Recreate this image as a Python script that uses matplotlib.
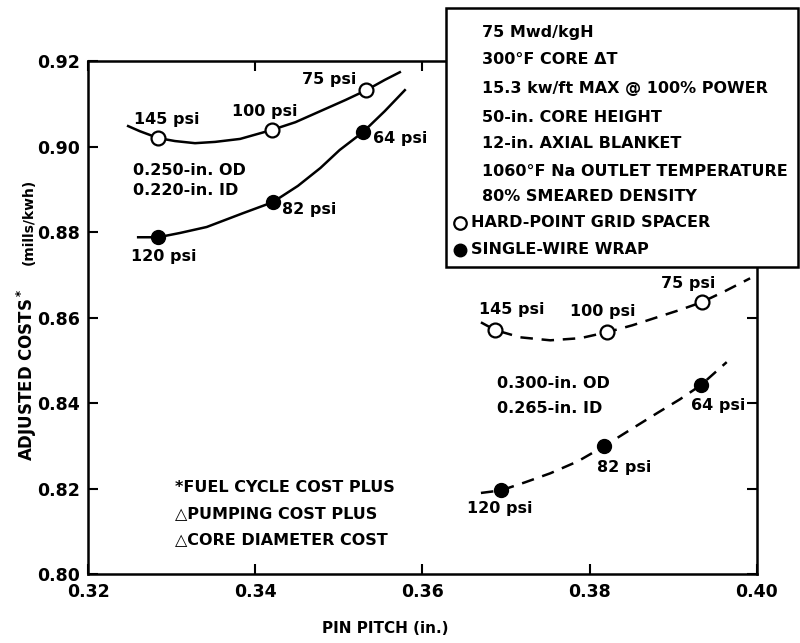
import matplotlib
matplotlib.use('Agg')
import matplotlib.pyplot as plt
from matplotlib.patches import Rectangle

plt.rcParams['font.family'] = ['DejaVu Sans']
plt.rcParams['font.weight'] = 'bold'

# 0.250-in. OD pins (solid curves)
small_open_x = [0.3284, 0.3420, 0.3533]
small_open_y = [0.9020, 0.9039, 0.9132]
small_open_psi = ['145 psi', '100 psi', '75 psi']
small_open_curve_x = [0.3248, 0.3262, 0.3284, 0.3304, 0.3328, 0.3352, 0.3382,
                      0.3420, 0.3448, 0.3478, 0.3508, 0.3533, 0.3555, 0.3573]
small_open_curve_y = [0.9048, 0.9036, 0.9020, 0.9013, 0.9008, 0.9011, 0.9018,
                      0.9039, 0.9057, 0.9083, 0.9109, 0.9132, 0.9156, 0.9174]

small_wire_x = [0.3284, 0.3421, 0.3529]
small_wire_y = [0.8788, 0.8870, 0.9034]
small_wire_psi = ['120 psi', '82 psi', '64 psi']
small_wire_curve_x = [0.3260, 0.3284, 0.3310, 0.3342, 0.3385, 0.3421,
                      0.3451, 0.3478, 0.3501, 0.3529, 0.3555, 0.3579]
small_wire_curve_y = [0.8788, 0.8788, 0.8798, 0.8812, 0.8844, 0.8870,
                      0.8908, 0.8950, 0.8992, 0.9034, 0.9083, 0.9132]

# 0.300-in. OD pins (dashed curves)
large_open_x = [0.3687, 0.3821, 0.3934]
large_open_y = [0.8571, 0.8566, 0.8636]
large_open_psi = ['145 psi', '100 psi', '75 psi']
large_open_curve_x = [0.3670, 0.3687, 0.3717, 0.3753, 0.3789, 0.3821,
                      0.3851, 0.3881, 0.3908, 0.3934, 0.3962, 0.3992]
large_open_curve_y = [0.8589, 0.8571, 0.8554, 0.8547, 0.8552, 0.8566,
                      0.8582, 0.8601, 0.8618, 0.8636, 0.8662, 0.8692]

large_wire_x = [0.3694, 0.3817, 0.3933]
large_wire_y = [0.8196, 0.8299, 0.8442]
large_wire_psi = ['120 psi', '82 psi', '64 psi']
large_wire_curve_x = [0.3670, 0.3694, 0.3723, 0.3753, 0.3786, 0.3817,
                      0.3848, 0.3881, 0.3908, 0.3933, 0.3964]
large_wire_curve_y = [0.8190, 0.8196, 0.8215, 0.8236, 0.8264, 0.8299,
                      0.8337, 0.8377, 0.8409, 0.8442, 0.8496]

x_ticks = [0.32, 0.34, 0.36, 0.38, 0.40]
y_ticks = [0.80, 0.82, 0.84, 0.86, 0.88, 0.90, 0.92]

legend_lines = ['75 Mwd/kgH', '300\u00b0F CORE \u0394T', '15.3 kw/ft MAX @ 100% POWER',
                '50-in. CORE HEIGHT', '12-in. AXIAL BLANKET',
                '1060\u00b0F Na OUTLET TEMPERATURE', '80% SMEARED DENSITY']
footnote = ['*FUEL CYCLE COST PLUS', '\u25b3PUMPING COST PLUS', '\u25b3CORE DIAMETER COST']

fig = plt.figure(figsize=(8, 6.43), dpi=100)
ax = fig.add_axes([0.11, 0.107, 0.836, 0.798])

lw = 1.8
ms = 10
ax.plot(small_open_curve_x, small_open_curve_y, color='black', lw=lw, solid_joinstyle='round')
ax.plot(small_wire_curve_x, small_wire_curve_y, color='black', lw=lw, solid_joinstyle='round')
ax.plot(large_open_curve_x, large_open_curve_y, color='black', lw=lw, dashes=(5, 3.5))
ax.plot(large_wire_curve_x, large_wire_curve_y, color='black', lw=lw, dashes=(5, 3.5))

for xs, ys in [(small_open_x, small_open_y), (large_open_x, large_open_y)]:
    ax.plot(xs, ys, 'o', ms=ms, mfc='white', mec='black', mew=1.6, zorder=3)
for xs, ys in [(small_wire_x, small_wire_y), (large_wire_x, large_wire_y)]:
    ax.plot(xs, ys, 'o', ms=ms, mfc='black', mec='black', zorder=3)

fs = 11.5
# pressure labels next to each point
label_pos = [
    (small_open_psi, [(0.3294, 0.9064), (0.3411, 0.9083), (0.3488, 0.9158)]),
    (small_wire_psi, [(0.3291, 0.8744), (0.3464, 0.8854), (0.3573, 0.9020)]),
    (large_open_psi, [(0.3707, 0.8620), (0.3816, 0.8615), (0.3918, 0.8681)]),
    (large_wire_psi, [(0.3693, 0.8154), (0.3841, 0.8250), (0.3954, 0.8395)]),
]
for texts, positions in label_pos:
    for t, (px, py) in zip(texts, positions):
        ax.text(px, py, t, fontsize=fs, ha='center', va='center')

ax.text(0.3254, 0.8943, '0.250-in. OD', fontsize=fs, va='center')
ax.text(0.3254, 0.8898, '0.220-in. ID', fontsize=fs, va='center')
ax.text(0.3689, 0.8447, '0.300-in. OD', fontsize=fs, va='center')
ax.text(0.3689, 0.8388, '0.265-in. ID', fontsize=fs, va='center')

for i, t in enumerate(footnote):
    ax.text(0.3304, 0.8203 - i * 0.00605, t, fontsize=fs, va='center')

ax.set_xlim(0.32, 0.40)
ax.set_ylim(0.80, 0.92)
ax.set_xticks(x_ticks)
ax.set_yticks(y_ticks)
ax.set_xticklabels(['%.2f' % v for v in x_ticks])
ax.set_yticklabels(['%.2f' % v for v in y_ticks])
ax.tick_params(direction='in', length=7, width=1.5, top=True, right=True,
               labelsize=12.5, pad=6)
for s in ax.spines.values():
    s.set_linewidth(1.8)

fig.text(0.481, 0.023, 'PIN PITCH (in.)', fontsize=11, ha='center', va='center')
fig.text(0.034, 0.418, 'ADJUSTED COSTS$^*$', fontsize=12, rotation=90,
         ha='center', va='center')
fig.text(0.036, 0.655, '(mills/kwh)', fontsize=10, rotation=90,
         ha='center', va='center')

# condition box in the upper right
fig.patches.append(Rectangle((0.557, 0.584), 0.44, 0.403, transform=fig.transFigure,
                             facecolor='white', edgecolor='black', lw=1.8, zorder=5))
ys_fig = [33, 60, 89, 117, 143, 171, 197]
for t, yp in zip(legend_lines, ys_fig):
    fig.text(482 / 800, 1 - yp / 643, t, fontsize=fs, va='center', zorder=6)
fig.lines.append(plt.Line2D([460 / 800], [1 - 223 / 643], marker='o', ms=9, mfc='white',
                            mec='black', mew=1.6, transform=fig.transFigure, zorder=6))
fig.lines.append(plt.Line2D([460 / 800], [1 - 250 / 643], marker='o', ms=9, mfc='black',
                            mec='black', transform=fig.transFigure, zorder=6))
fig.text(471 / 800, 1 - 223 / 643, 'HARD-POINT GRID SPACER', fontsize=fs, va='center', zorder=6)
fig.text(471 / 800, 1 - 250 / 643, 'SINGLE-WIRE WRAP', fontsize=fs, va='center', zorder=6)

fig.savefig('out.png', dpi=100)
